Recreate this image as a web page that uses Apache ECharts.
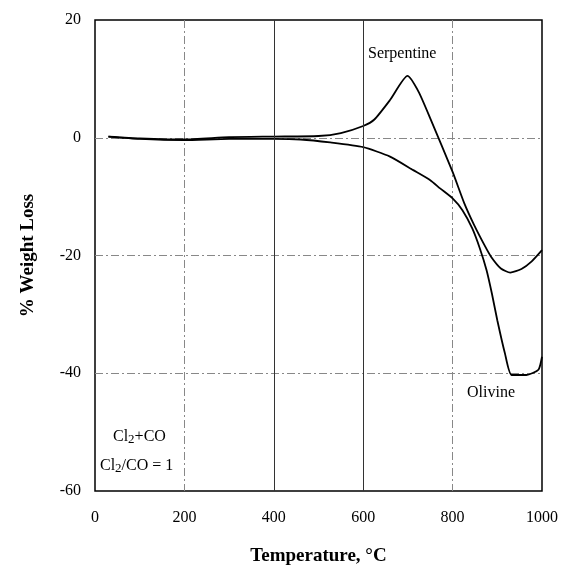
<!DOCTYPE html>
<html>
<head>
<meta charset="utf-8">
<script src="https://cdn.jsdelivr.net/npm/echarts@6/dist/echarts.min.js"></script>
<style>
  html, body { margin: 0; padding: 0; background: #fff; }
  #main { width: 565px; height: 567px; }
</style>
</head>
<body>
<div id="main"></div>
<script>
// tick labels
var xTicks = [0, 200, 400, 600, 800, 1000];
var yTicks = [20, 0, -20, -40, -60];

// Serpentine curve [temperature, % weight loss]
var serpentine = [
  [30, 0.2], [100, -0.1], [200, -0.3], [300, 0.1], [400, 0.2], [500, 0.3],
  [550, 0.8], [600, 2.0], [625, 3.1], [660, 6.4], [699, 10.5], [724, 7.8],
  [750, 3.3], [800, -5.8], [826, -11.1], [848, -14.8], [871, -18.2],
  [886, -20.2], [908, -22.2], [929, -22.9], [954, -22.3], [977, -21.0], [1000, -19.1]
];

// Olivine curve
var olivine = [
  [30, 0.2], [100, -0.2], [200, -0.4], [300, -0.2], [400, -0.2], [460, -0.3],
  [526, -0.8], [600, -1.6], [660, -3.2], [712, -5.5], [750, -7.2], [772, -8.6],
  [800, -10.3], [822, -12.3], [844, -15.4], [861, -18.8], [876, -22.5],
  [888, -26.5], [900, -31.0], [917, -36.6], [932, -40.3], [965, -40.3],
  [992, -39.4], [1000, -37.2]
];

var font = '"Liberation Serif", "Times New Roman", serif';

var myChart = echarts.init(document.getElementById('main'));
myChart.setOption({
  animation: false,
  grid: { left: 95, right: 23, top: 20, bottom: 76, outerBoundsMode: 'none',
    show: true, borderColor: '#000', borderWidth: 1.5 },
  xAxis: {
    type: 'value',
    min: 0, max: 1000, interval: 200,
    name: 'Temperature, °C',
    nameLocation: 'middle',
    nameGap: 56,
    nameTextStyle: { fontFamily: font, fontWeight: 'bold', fontSize: 19, color: '#000' },
    axisLine: { show: false },
    axisTick: { show: false },
    axisLabel: { fontFamily: font, fontSize: 16, color: '#000', margin: 19,
      formatter: function (v) { return xTicks.indexOf(v) >= 0 ? String(v) : ''; } },
    splitLine: { show: true, showMinLine: false, showMaxLine: false,
      lineStyle: { color: '#888', width: 1, type: [8, 3, 2, 3] } }
  },
  yAxis: {
    type: 'value',
    min: -60, max: 20, interval: 20,
    name: '% Weight Loss',
    nameLocation: 'middle',
    nameGap: 57,
    nameRotate: 90,
    nameTextStyle: { fontFamily: font, fontWeight: 'bold', fontSize: 19, color: '#000' },
    axisLine: { show: false },
    axisTick: { show: false },
    axisLabel: { fontFamily: font, fontSize: 16, color: '#000', margin: 14,
      formatter: function (v) { return yTicks.indexOf(v) >= 0 ? String(v) : ''; } },
    splitLine: { show: true, showMinLine: false, showMaxLine: false,
      lineStyle: { color: '#888', width: 1, type: [8, 3, 2, 3] } }
  },
  series: [
    {
      name: 'Serpentine',
      type: 'line',
      data: serpentine,
      smooth: 0.2,
      showSymbol: false,
      lineStyle: { color: '#000', width: 1.8 },
      markLine: {
        silent: true,
        symbol: 'none',
        label: { show: false },
        lineStyle: { color: '#333', width: 1, type: 'solid' },
        data: [{ xAxis: 400 }, { xAxis: 600 }]
      },
      z: 3
    },
    {
      name: 'Olivine',
      type: 'line',
      data: olivine,
      smooth: 0.2,
      showSymbol: false,
      lineStyle: { color: '#000', width: 1.8 },
      z: 3
    }
  ],
  graphic: [
    { type: 'text', left: 368, top: 46, style: { text: 'Serpentine', fontFamily: font, fontSize: 16, fill: '#000' } },
    { type: 'text', left: 467, top: 385, style: { text: 'Olivine', fontFamily: font, fontSize: 16, fill: '#000' } },
    { type: 'text', left: 113, top: 429, style: {
      text: 'Cl{sub|2}+CO', fontFamily: font, fontSize: 16, fill: '#000',
      rich: { sub: { fontFamily: font, fontSize: 13, padding: [6, 0, 0, 0] } } } },
    { type: 'text', left: 100, top: 458, style: {
      text: 'Cl{sub|2}/CO = 1', fontFamily: font, fontSize: 16, fill: '#000',
      rich: { sub: { fontFamily: font, fontSize: 13, padding: [6, 0, 0, 0] } } } }
  ]
});
</script>
</body>
</html>
